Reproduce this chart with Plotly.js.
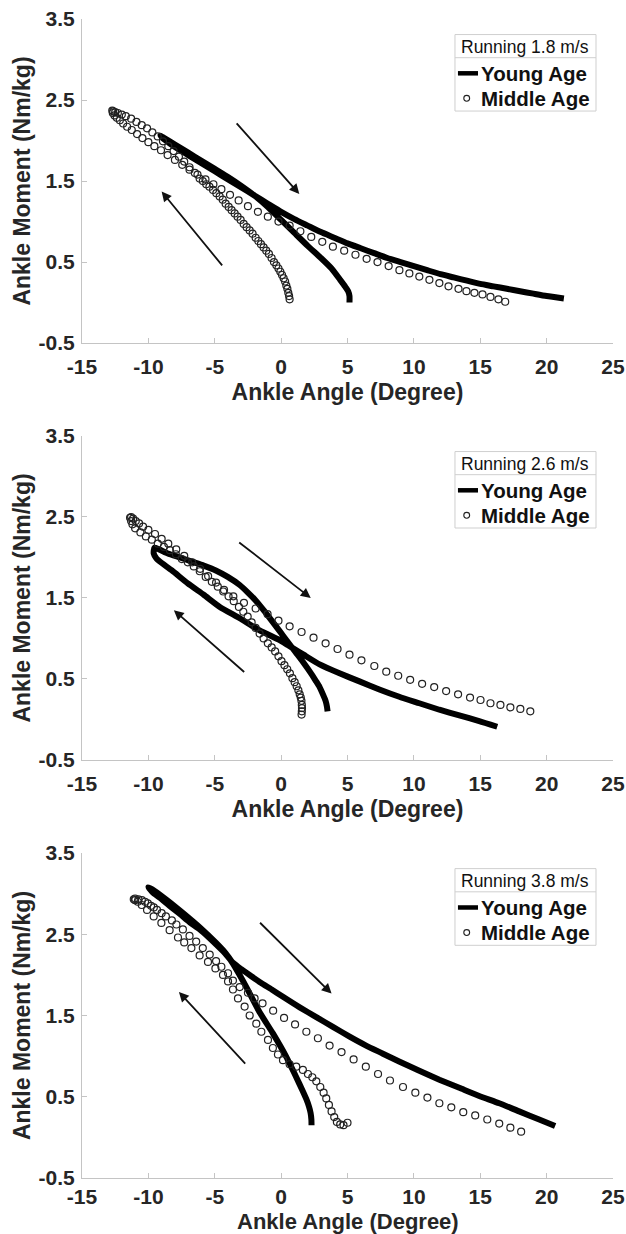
<!DOCTYPE html>
<html>
<head>
<meta charset="utf-8">
<script src="https://cdn.plot.ly/plotly-3.0.1.min.js"></script>
<style>html,body{margin:0;padding:0;background:#fff;}#chart{width:626px;height:1234px;}</style>
</head>
<body>
<div id="chart"></div>
<script>
// ---------- data ----------
const speedLabels = ['Running 1.8 m/s', 'Running 2.6 m/s', 'Running 3.8 m/s'];
const seriesNames = ['Young Age', 'Middle Age'];
const xTickVals = [-15, -10, -5, 0, 5, 10, 15, 20, 25];
const xTickText = ['-15', '-10', '-5', '0', '5', '10', '15', '20', '25'];
const yTickVals = [-0.5, 0.5, 1.5, 2.5, 3.5];
const yTickText = ['-0.5', '0.5', '1.5', '2.5', '3.5'];
const xTitle = 'Ankle Angle (Degree)';
const yTitle = 'Ankle Moment (Nm/kg)';

// Running 1.8 m/s
const young18X = [5.15,5.15,5.05,4.85,4.45,3.8,3.0,2.0,1.0,0.0,-1.0,-2.0,-3.0,-4.0,-5.0,-6.0,-7.0,-8.0,-8.8,-9.1,
  -8.7,-8.0,-7.0,-6.0,-5.0,-4.0,-3.0,-2.0,-1.0,0.0,1.0,2.0,3.0,4.0,5.0,6.0,7.0,8.0,9.0,10.0,11.0,12.0,13.0,14.0,15.0,16.0,17.0,18.0,19.0,20.0,21.3];
const young18Y = [0.0,0.08,0.14,0.19,0.28,0.42,0.55,0.7,0.86,1.02,1.18,1.32,1.44,1.55,1.65,1.75,1.85,1.95,2.03,2.06,
  2.0,1.92,1.82,1.72,1.62,1.52,1.42,1.32,1.22,1.12,1.03,0.95,0.87,0.8,0.73,0.67,0.61,0.55,0.5,0.45,0.4,0.35,0.31,0.27,0.23,0.2,0.17,0.14,0.11,0.08,0.05];
const middle18X = [0.64,0.6,0.54,0.47,0.39,0.3,0.19,0.07,-0.06,-0.2,-0.36,-0.54,-0.72,-0.92,-1.12,-1.32,-1.52,-1.72,-1.92,-2.15,-2.37,-2.6,-2.82,-3.05,-3.28,-3.5,-3.73,-3.95,-4.18,-4.4,-4.63,-4.88,-5.13,-5.4,-5.64,-5.9,-6.14,-6.5,-6.9,-7.3,-7.7,-8.1,-8.5,-8.9,-9.3,-9.7,-10.1,-10.5,-10.9,-11.3,-11.7,-12.0,-12.3,-12.5,-12.65,-12.72,
  -12.68,-12.55,-12.38,-12.15,-11.9,-11.6,-11.25,-10.85,-10.45,-10.0,-9.55,-9.05,-8.55,-8.0,-7.45,-6.9,-6.3,-5.7,-5.1,-4.5,-3.85,-3.2,-2.5,-1.75,-1.0,-0.2,0.64,1.45,2.27,3.1,3.9,4.75,5.6,6.44,7.26,8.1,8.91,9.66,10.41,11.17,11.92,12.61,13.36,13.96,14.56,15.17,15.77,16.37,16.88];
const middle18Y = [0.04,0.08,0.12,0.17,0.21,0.26,0.3,0.34,0.38,0.42,0.46,0.5,0.55,0.6,0.64,0.68,0.72,0.76,0.8,0.85,0.89,0.93,0.97,1.02,1.06,1.1,1.14,1.18,1.22,1.27,1.31,1.35,1.39,1.43,1.46,1.5,1.53,1.6,1.67,1.74,1.8,1.87,1.93,1.99,2.05,2.1,2.15,2.19,2.23,2.27,2.3,2.32,2.34,2.35,2.36,2.37,
  2.34,2.31,2.28,2.25,2.21,2.17,2.13,2.08,2.03,1.98,1.93,1.88,1.82,1.76,1.7,1.64,1.58,1.52,1.46,1.4,1.33,1.26,1.19,1.12,1.06,1.0,0.95,0.88,0.81,0.75,0.69,0.64,0.59,0.54,0.5,0.45,0.4,0.36,0.32,0.28,0.24,0.2,0.17,0.14,0.12,0.1,0.07,0.04,0.01];

// Running 2.6 m/s
const young26X = [3.5,3.45,3.35,3.15,2.9,2.6,2.29,1.69,1.09,0.49,-0.11,-0.71,-1.32,-1.92,-2.52,-3.12,-4.02,-4.92,-5.83,-6.73,-7.63,-8.53,-9.2,-9.55,
  -9.6,-9.4,-9.14,-8.23,-7.03,-5.83,-4.62,-3.12,-1.62,-0.11,0.49,1.09,1.69,2.9,4.4,5.9,7.4,8.9,10.41,11.92,13.42,14.92,16.28];
const young26Y = [0.1,0.16,0.23,0.31,0.4,0.48,0.56,0.7,0.83,0.96,1.09,1.22,1.35,1.47,1.57,1.66,1.76,1.84,1.9,1.95,2.0,2.05,2.1,2.12,
  2.05,1.99,1.95,1.84,1.68,1.54,1.39,1.25,1.1,0.98,0.92,0.86,0.8,0.68,0.57,0.47,0.37,0.28,0.2,0.12,0.05,-0.02,-0.09];
const middle26X = [1.54,1.56,1.57,1.56,1.53,1.48,1.4,1.3,1.17,1.02,0.85,0.66,0.46,0.25,0.03,-0.2,-0.45,-0.71,-1.0,-1.32,-1.62,-1.92,-2.22,-2.52,-2.85,-3.18,-3.57,-3.96,-4.36,-4.77,-5.22,-5.68,-6.13,-6.58,-7.03,-7.48,-7.93,-8.38,-8.83,-9.29,-9.74,-10.19,-10.6,-11.0,-11.2,-11.3,-11.38,
  -11.3,-11.15,-10.95,-10.7,-10.4,-10.0,-9.5,-9.0,-8.5,-7.9,-7.3,-6.7,-6.1,-5.5,-4.9,-4.3,-3.6,-2.8,-1.92,-1.02,-0.2,0.64,1.54,2.44,3.35,4.25,5.15,6.05,7.02,7.92,8.82,9.72,10.62,11.53,12.43,13.33,14.23,15.02,15.77,16.52,17.27,18.02,18.77];
const middle26Y = [0.06,0.1,0.14,0.18,0.23,0.27,0.31,0.36,0.41,0.46,0.51,0.57,0.62,0.67,0.72,0.78,0.84,0.89,0.94,1.0,1.06,1.13,1.2,1.27,1.33,1.39,1.46,1.52,1.58,1.64,1.7,1.76,1.83,1.89,1.94,1.98,2.04,2.09,2.13,2.17,2.22,2.26,2.31,2.36,2.41,2.45,2.49,
  2.5,2.48,2.45,2.42,2.38,2.34,2.29,2.23,2.17,2.1,2.02,1.94,1.86,1.77,1.69,1.6,1.52,1.44,1.37,1.3,1.22,1.15,1.08,1.01,0.94,0.87,0.8,0.73,0.66,0.59,0.54,0.49,0.44,0.4,0.35,0.31,0.27,0.24,0.2,0.18,0.15,0.13,0.1];

// Running 3.8 m/s
const young38X = [2.29,2.28,2.22,2.1,1.9,1.6,1.14,0.39,-0.62,-1.62,-2.62,-3.2,-3.63,-4.2,-4.88,-6.1,-7.39,-8.6,-9.5,-10.0,
  -9.7,-9.14,-8.4,-7.63,-6.9,-6.13,-5.5,-4.92,-4.3,-3.63,-3.0,-2.3,-1.5,-0.71,0.14,1.4,2.65,3.9,5.16,6.4,7.67,8.93,10.41,11.92,13.42,14.92,16.43,17.93,19.44,20.64];
const young38Y = [0.15,0.22,0.3,0.38,0.47,0.58,0.74,0.99,1.28,1.54,1.85,2.02,2.14,2.27,2.39,2.58,2.76,2.92,3.03,3.08,
  3.02,2.95,2.85,2.75,2.65,2.56,2.47,2.38,2.28,2.15,2.07,1.99,1.9,1.82,1.73,1.6,1.48,1.36,1.24,1.13,1.03,0.93,0.82,0.71,0.61,0.51,0.42,0.32,0.22,0.14];
const middle38X = [5.0,4.7,4.45,4.2,4.0,3.8,3.6,3.4,3.2,2.95,2.65,2.35,2.02,1.64,1.14,0.64,0.14,-0.24,-0.62,-0.99,-1.49,-1.87,-2.37,-2.75,-3.25,-3.63,-4.0,-4.38,-4.95,-5.51,-6.14,-6.76,-7.3,-7.77,-8.4,-9.02,-9.6,-10.1,-10.5,-10.8,-11.0,-11.1,
  -11.0,-10.75,-10.49,-10.25,-10.04,-9.8,-9.59,-9.35,-9.0,-8.68,-8.23,-7.89,-7.4,-6.9,-6.4,-5.9,-5.38,-4.9,-4.5,-4.0,-3.63,-3.12,-2.5,-2.0,-1.4,-0.6,0.22,1.05,1.9,2.77,3.65,4.55,5.46,6.38,7.3,8.2,9.18,10.11,11.02,11.92,12.82,13.72,14.62,15.53,16.43,17.27,18.08];
const middle38Y = [0.18,0.15,0.16,0.19,0.25,0.32,0.4,0.48,0.55,0.62,0.69,0.74,0.78,0.83,0.87,0.9,0.95,1.02,1.1,1.2,1.3,1.4,1.5,1.61,1.71,1.82,1.92,2.0,2.08,2.16,2.24,2.33,2.4,2.46,2.55,2.64,2.72,2.8,2.86,2.9,2.92,2.93,
  2.94,2.93,2.92,2.9,2.88,2.85,2.83,2.8,2.76,2.72,2.67,2.62,2.56,2.48,2.41,2.33,2.25,2.17,2.1,2.02,1.93,1.85,1.78,1.71,1.65,1.56,1.47,1.39,1.3,1.22,1.13,1.05,0.96,0.87,0.78,0.7,0.62,0.55,0.49,0.42,0.37,0.31,0.27,0.22,0.17,0.12,0.07];

// direction arrows per panel: [tailX, tailY, headX, headY]
const arrows18 = [[-3.45, 2.23, 1.37, 1.34], [-4.35, 0.44, -9.0, 1.37]];
const arrows26 = [[-3.27, 2.2, 2.23, 1.5], [-2.67, 0.57, -8.08, 1.35]];
const arrows38 = [[-1.7, 2.66, 3.8, 1.77], [-2.6, 0.89, -7.7, 1.79]];

// ---------- build ----------
const FONT = 'Liberation Sans, Arial, Helvetica, sans-serif';
const TXT = '#262626';
const AX = '#c4c4c4';

const panels = [
  {yx: young18X, yy: young18Y, mx: middle18X, my: middle18Y, arrows: arrows18, dom: [0.7204, 1.0]},
  {yx: young26X, yy: young26Y, mx: middle26X, my: middle26Y, arrows: arrows26, dom: [0.3607, 0.6402]},
  {yx: young38X, yy: young38Y, mx: middle38X, my: middle38Y, arrows: arrows38, dom: [0.0, 0.2804]}
];

const traces = [];
const layout = {
  width: 626, height: 1234,
  margin: {l: 82, r: 13, t: 19, b: 56},
  paper_bgcolor: '#fff', plot_bgcolor: '#fff',
  showlegend: false,
  font: {family: FONT, color: TXT},
  annotations: [], shapes: []
};
const titleFont = {family: FONT, size: 23, color: TXT, weight: 'bold'};

panels.forEach((p, i) => {
  const n = i === 0 ? '' : String(i + 1);
  const xa = 'x' + n, ya = 'y' + n;
  traces.push({
    x: p.yx, y: p.yy, xaxis: xa, yaxis: ya, type: 'scatter', mode: 'lines', name: seriesNames[0],
    line: {color: '#000', width: 6, shape: 'spline', smoothing: 0.5}, hoverinfo: 'x+y'
  });
  traces.push({
    x: p.mx, y: p.my, xaxis: xa, yaxis: ya, type: 'scatter', mode: 'markers', name: seriesNames[1],
    marker: {symbol: 'circle-open', size: 7, color: '#222', line: {width: 1.2, color: '#222'}}, hoverinfo: 'x+y'
  });
  const last = i === panels.length - 1;
  layout['xaxis' + n] = {
    domain: [0, 1], anchor: ya, range: [-15, 25], fixedrange: true,
    showline: true, linecolor: AX, linewidth: 1, mirror: false,
    showgrid: false, zeroline: false,
    ticks: 'inside', ticklen: 5, tickcolor: AX, tickwidth: 1,
    tickmode: 'array', tickvals: xTickVals, ticktext: xTickText, ticklabelstandoff: last ? 0 : 5,
    tickfont: {family: FONT, size: 21, color: TXT, weight: 'bold'},
    title: last ? {text: ''} : {text: xTitle, font: titleFont, standoff: 6}
  };
  if (last) {
    // bottom panel: title placed as low as the page allows, as in the source figure
    layout.annotations.push({xref: 'x3 domain', yref: 'paper', x: 0.5, y: -0.0375, xanchor: 'center', yanchor: 'middle',
      text: xTitle, showarrow: false, font: {family: FONT, size: 22, color: TXT, weight: 'bold'}});
  }
  layout['yaxis' + n] = {
    domain: p.dom, anchor: xa, range: [-0.5, 3.5], fixedrange: true,
    showline: true, linecolor: AX, linewidth: 1, mirror: false,
    showgrid: false, zeroline: false,
    ticks: 'inside', ticklen: 5, tickcolor: AX, tickwidth: 1,
    tickmode: 'array', tickvals: yTickVals, ticktext: yTickText, ticklabelstandoff: 2,
    tickfont: {family: FONT, size: 21, color: TXT, weight: 'bold'},
    title: {text: yTitle, font: titleFont, standoff: 1}
  };
  // arrows
  p.arrows.forEach(a => {
    layout.annotations.push({
      xref: xa, yref: ya, axref: xa, ayref: ya,
      x: a[2], y: a[3], ax: a[0], ay: a[1], text: '', showarrow: true,
      arrowhead: 2, arrowsize: 1.1, arrowwidth: 1.8, arrowcolor: '#111', standoff: 0, startstandoff: 0
    });
  });
  // legend box (drawn in axis-domain units)
  const xr = xa + ' domain', yr = ya + ' domain';
  layout.shapes.push({type: 'rect', xref: xr, yref: yr, x0: 0.7024, x1: 0.968, y0: 0.716, y1: 0.952,
    line: {color: '#cfcfcf', width: 1}, fillcolor: '#fff', layer: 'above'});
  layout.shapes.push({type: 'line', xref: xr, yref: yr, x0: 0.7024, x1: 0.968, y0: 0.8806, y1: 0.8806,
    line: {color: '#cfcfcf', width: 1}, layer: 'above'});
  layout.shapes.push({type: 'line', xref: xr, yref: yr, x0: 0.708, x1: 0.7458, y0: 0.8324, y1: 0.8324,
    line: {color: '#000', width: 4.5}, layer: 'above'});
  layout.shapes.push({type: 'circle', xref: xr, yref: yr, x0: 0.7245 - 0.0055, x1: 0.7245 + 0.0055, y0: 0.7552 - 0.009, y1: 0.7552 + 0.009,
    line: {color: '#222', width: 1.1}, layer: 'above'});
  layout.annotations.push({xref: xr, yref: yr, x: 0.8352, y: 0.9127, xanchor: 'center', yanchor: 'middle',
    text: speedLabels[i], showarrow: false, font: {family: FONT, size: 17.5, color: '#111'}});
  layout.annotations.push({xref: xr, yref: yr, x: 0.747, y: 0.8324, xanchor: 'left', yanchor: 'middle',
    text: seriesNames[0], showarrow: false, font: {family: FONT, size: 20.5, color: '#111', weight: 'bold'}});
  layout.annotations.push({xref: xr, yref: yr, x: 0.747, y: 0.7552, xanchor: 'left', yanchor: 'middle',
    text: seriesNames[1], showarrow: false, font: {family: FONT, size: 20.5, color: '#111', weight: 'bold'}});
});

Plotly.newPlot('chart', traces, layout, {displayModeBar: false, staticPlot: true});
</script>
</body>
</html>
